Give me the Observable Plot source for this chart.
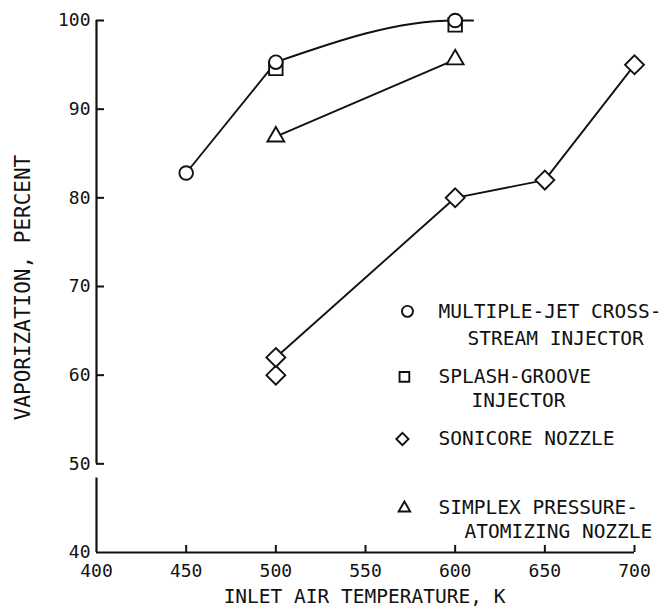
<!DOCTYPE html>
<html>
<head>
<meta charset="utf-8">
<script src="https://cdn.jsdelivr.net/npm/d3@7"></script>
<script src="https://cdn.jsdelivr.net/npm/@observablehq/plot@0.6"></script>
<style>
  html, body { margin: 0; padding: 0; background: #fff; }
  #chart { width: 672px; height: 616px; }
  svg { font-family: "DejaVu Sans Mono", "Liberation Mono", monospace; }
</style>
</head>
<body>
<div id="chart"></div>
<script>
// ---- data ----
const xTicks = [400, 450, 500, 550, 600, 650, 700];
const yTicks = [40, 50, 60, 70, 80, 90, 100];

// Multiple-jet cross-stream injector (circles)
const jetX = [450, 500, 600];
const jetY = [82.8, 95.3, 100];
// faired curve from 500 K through 600 K with short flat tail
const jetCurveX = [500, 600, 610];
const jetCurveY = [95.3, 100, 100];

// Splash-groove injector (squares)
const splashX = [500, 600];
const splashY = [94.6, 99.5];

// Sonicore nozzle (diamonds)
const sonicX = [500, 500, 600, 650, 700];
const sonicY = [60, 62, 80, 82, 95];
const sonicLineX = [500, 600, 650, 700];
const sonicLineY = [62, 80, 82, 95];

// Simplex pressure-atomizing nozzle (triangles)
const simplexX = [500, 600];
const simplexY = [86.9, 95.6];

// legend
const legendSymbols = ["circle", "square", "diamond2", "triangle2"];
const legendLines = [
  ["MULTIPLE-JET CROSS-", "STREAM INJECTOR"],
  ["SPLASH-GROOVE", "INJECTOR"],
  ["SONICORE NOZZLE"],
  ["SIMPLEX PRESSURE-", "ATOMIZING NOZZLE"]
];
const legendSymX = [573.4, 571.7, 570.6, 571.7];   // K units
const legendRowY = [67.2, 59.8, 52.8, 45.0];       // value units
const legendSecondY = [64.1, 57.1, null, 42.3];
const legendTextX = 590.7;
const legendSecondX = [606.9, 609.1, null, 605.2];

const pts = (xs, ys) => xs.map((x, i) => ({x, y: ys[i]}));

const legendSym = legendSymbols.map((s, i) => ({symbol: s, x: legendSymX[i], y: legendRowY[i]}));
const legendText = [];
legendLines.forEach((lines, i) => {
  legendText.push({x: legendTextX, y: legendRowY[i], text: lines[0]});
  if (lines[1]) legendText.push({x: legendSecondX[i], y: legendSecondY[i], text: lines[1]});
});

const ink = "#111";
const sw = 1.9;

const chart = Plot.plot({
  width: 672,
  height: 616,
  marginLeft: 96,
  marginRight: 38,
  marginTop: 20,
  marginBottom: 64,
  style: {background: "#fff", color: ink, fontSize: "18px", overflow: "visible"},
  x: {domain: [400, 700], ticks: xTicks, label: null},
  y: {domain: [40, 100], ticks: yTicks, label: null},
  marks: [
    // axis lines (with a break in the y axis between 48.4 and 50)
    Plot.ruleY([40], {x1: 400, x2: 700, stroke: ink, strokeWidth: 2.2}),
    Plot.ruleX([400], {y1: 50, y2: 100, stroke: ink, strokeWidth: 2.2}),
    Plot.ruleX([400], {y1: 40, y2: 48.4, stroke: ink, strokeWidth: 2.2}),
    // inward tick marks
    Plot.ruleX(xTicks.slice(1), {x: d => d, y1: 40, y2: 40, insetTop: -7, stroke: ink, strokeWidth: 2}),
    Plot.ruleY(yTicks.slice(1), {y: d => d, x1: 400, x2: 400, insetRight: -8, stroke: ink, strokeWidth: 2}),
    // tick labels
    Plot.axisX({ticks: xTicks, tickSize: 0, tickPadding: 12, fontSize: 18, label: null}),
    Plot.axisY({ticks: yTicks, tickSize: 0, tickPadding: 6, fontSize: 18, label: null}),
    // axis titles
    Plot.text(["INLET AIR TEMPERATURE, K"], {frameAnchor: "bottom", textAnchor: "middle", dx: -1, dy: 50, fontSize: 19.5, text: d => d, fill: ink}),
    Plot.text(["VAPORIZATION, PERCENT"], {frameAnchor: "left", textAnchor: "middle", rotate: -90, dx: -73, dy: 1, fontSize: 21, text: d => d, fill: ink}),

    // lines
    Plot.line(pts(jetX.slice(0, 2), jetY.slice(0, 2)), {x: "x", y: "y", stroke: ink, strokeWidth: sw}),
    Plot.line(pts(jetCurveX, jetCurveY), {x: "x", y: "y", stroke: ink, strokeWidth: sw, curve: "monotone-x"}),
    Plot.line(pts(sonicLineX, sonicLineY), {x: "x", y: "y", stroke: ink, strokeWidth: sw}),
    Plot.line(pts(simplexX, simplexY), {x: "x", y: "y", stroke: ink, strokeWidth: sw}),

    // markers
    Plot.dot(pts(splashX, splashY), {x: "x", y: "y", symbol: "square", r: 7.6, stroke: ink, strokeWidth: sw, fill: "#fff"}),
    Plot.dot(pts(jetX, jetY), {x: "x", y: "y", symbol: "circle", r: 6.8, stroke: ink, strokeWidth: sw, fill: "#fff"}),
    Plot.dot(pts(sonicX, sonicY), {x: "x", y: "y", symbol: "diamond2", r: 8.5, stroke: ink, strokeWidth: sw, fill: "#fff"}),
    Plot.dot(pts(simplexX, simplexY), {x: "x", y: "y", symbol: "triangle2", r: 8, stroke: ink, strokeWidth: sw, fill: "#fff"}),

    // legend
    Plot.dot(legendSym, {x: "x", y: "y", symbol: "symbol", r: 5.5, stroke: ink, strokeWidth: sw, fill: "#fff"}),
    Plot.text(legendText, {x: "x", y: "y", text: "text", textAnchor: "start", fontSize: 19.5, fill: ink})
  ]
});
document.getElementById("chart").appendChild(chart);
</script>
</body>
</html>
